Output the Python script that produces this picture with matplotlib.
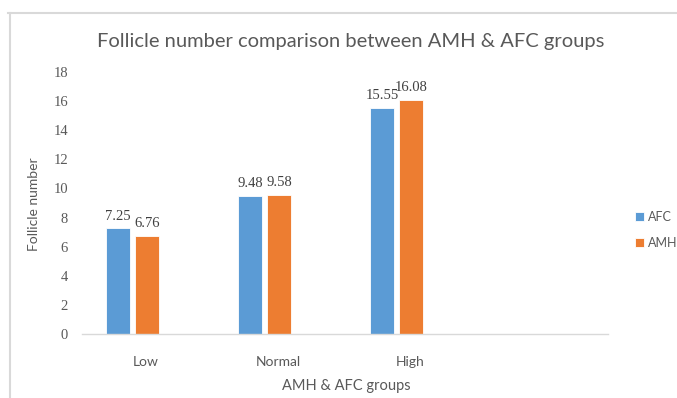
import matplotlib
matplotlib.use("Agg")
import matplotlib.pyplot as plt
from matplotlib.lines import Line2D
import numpy as np

groups = ["Low", "Normal", "High"]
series_names = ["AFC", "AMH"]
afc = [7.25, 9.48, 15.55]
amh = [6.76, 9.58, 16.08]
yticks = [0, 2, 4, 6, 8, 10, 12, 14, 16, 18]

blue = "#5B9BD5"
orange = "#ED7D31"
gray = "#595959"
light = "#D9D9D9"
num_font = "Liberation Serif"
txt_font = "Lato"

fig = plt.figure(figsize=(6.77, 3.98), dpi=100)
ax = fig.add_axes([82 / 677, 64 / 398, 526 / 677, 262 / 398])

x = np.arange(len(groups))
w = 0.18
off = 0.11
b1 = ax.bar(x - off, afc, w, color=blue, edgecolor="white", linewidth=0.6, label=series_names[0])
b2 = ax.bar(x + off, amh, w, color=orange, edgecolor="white", linewidth=0.6, label=series_names[1])

for bars, vals in [(b1, afc), (b2, amh)]:
    for r, v in zip(bars, vals):
        ax.annotate(f"{v:.2f}", (r.get_x() + r.get_width() / 2, v),
                    xytext=(0, 4), textcoords="offset points",
                    ha="center", va="bottom", fontsize=10.5,
                    family=num_font, color="#404040")

ax.set_xlim(-0.383, 3.6)
ax.set_ylim(0, 18)
ax.set_yticks(yticks)
ax.set_yticklabels([str(t) for t in yticks], family=num_font, fontsize=10.5, color=gray)
ax.set_xticks(x + 0.1)
ax.set_xticklabels(groups, family=txt_font, fontsize=10, color=gray)
ax.tick_params(axis="both", length=0)
ax.tick_params(axis="x", pad=16)
ax.tick_params(axis="y", pad=10)

for s in ["top", "right", "left"]:
    ax.spines[s].set_visible(False)
ax.spines["bottom"].set_color(light)
ax.spines["bottom"].set_linewidth(1.0)

fig.text(351 / 677, 1 - 42 / 398, "Follicle number comparison between AMH & AFC groups",
         ha="center", va="center", fontsize=14.5, family=txt_font, color=gray)
fig.text(34 / 677, 1 - 204 / 398, "Follicle number", rotation=90,
         ha="center", va="center", fontsize=10, family=txt_font, color=gray)
fig.text(346 / 677, 1 - 386 / 398, "AMH & AFC groups",
         ha="center", va="center", fontsize=10.5, family=txt_font, color=gray)

fig.legend(handles=[b1, b2], labels=series_names, loc="center left",
           bbox_to_anchor=(624 / 677, 1 - 230 / 398), frameon=False,
           handlelength=0.7, handleheight=0.7, handletextpad=0.3,
           labelspacing=1.1, prop={"family": txt_font, "size": 9},
           labelcolor=gray)

fig.add_artist(Line2D([8 / 677, 1], [1 - 13 / 398, 1 - 13 / 398], color=light, lw=1.5))
fig.add_artist(Line2D([10 / 677, 10 / 677], [0, 1 - 13 / 398], color=light, lw=1.5))

fig.savefig("out.png", dpi=100)
